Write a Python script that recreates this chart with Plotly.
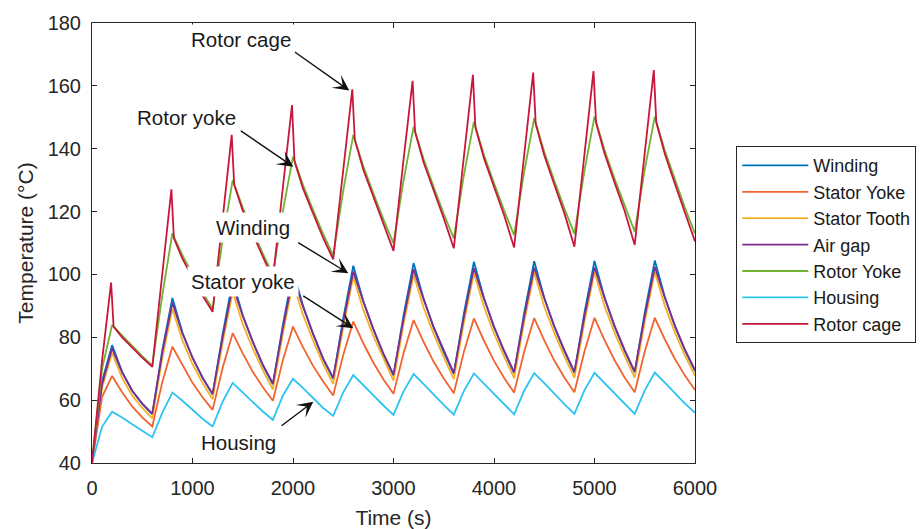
import plotly.graph_objects as go

# Sampling grid (s) for the node temperatures
time_s = list(range(0, 6001, 100))

winding = [
    40, 66, 77.5, 69, 63, 58.8,
    55.5, 76, 92.5, 81.5, 73.5, 67,
    61.8, 81, 98, 87, 78.5, 71,
    65, 84, 101, 90, 81, 73,
    66.8, 86, 102.8, 91.5, 82.5, 74.5,
    67.8, 87, 103.6, 92.3, 83, 75.3,
    68.3, 87.5, 104, 92.5, 83.2, 75.5,
    68.6, 87.7, 104.2, 92.6, 83.3, 75.6,
    68.7, 87.8, 104.3, 92.7, 83.4, 75.7,
    68.8, 87.8, 104.4, 92.8, 83.5, 75.8,
    69.2,
]

stator_yoke = [
    40, 61, 67.7, 62.5, 58.0, 54.5,
    51.6, 65.8, 77.0, 71.0, 65.5, 60.9,
    56.9, 70.3, 81.3, 74.9, 69.0, 64.1,
    59.8, 72.8, 83.4, 76.8, 70.9, 65.9,
    61.5, 74.4, 85.0, 78.1, 71.9, 66.6,
    62.0, 74.9, 85.5, 78.5, 72.2, 66.9,
    62.2, 75.3, 86.0, 78.9, 72.5, 67.1,
    62.4, 75.4, 86.1, 79.0, 72.6, 67.2,
    62.5, 75.5, 86.2, 79.1, 72.7, 67.2,
    62.5, 75.5, 86.2, 79.3, 73.1, 67.8,
    63.2,
]

stator_tooth = [
    40, 64, 75, 67, 61.5, 57.5,
    54.2, 73.5, 89, 79, 71.5, 65.4,
    60.3, 78.3, 94.3, 84.2, 76.4, 69.5,
    63.4, 81.3, 97.3, 87.1, 78.9, 71.5,
    65.2, 83.2, 99.2, 88.7, 80.4, 73.0,
    66.2, 84.1, 99.9, 89.4, 81.0, 73.7,
    66.7, 84.6, 100.4, 89.7, 81.2, 73.9,
    67.0, 84.8, 100.6, 89.8, 81.3, 74.0,
    67.1, 84.9, 100.7, 89.9, 81.4, 74.1,
    67.2, 84.9, 100.8, 90.0, 81.5, 74.2,
    67.8,
]

air_gap = [
    40, 65, 76.5, 68.8, 63, 58.9,
    55.7, 75.2, 91, 81.2, 73.5, 67.2,
    62.0, 80, 96.3, 86.8, 78.6, 71.3,
    65.3, 83, 99.2, 89.7, 81.1, 73.3,
    67.1, 84.9, 100.9, 91.3, 82.6, 74.8,
    68.1, 85.9, 101.6, 92.0, 83.2, 75.6,
    68.6, 86.4, 102.0, 92.3, 83.4, 75.8,
    68.9, 86.6, 102.2, 92.4, 83.5, 75.9,
    69.0, 86.7, 102.3, 92.5, 83.6, 76.0,
    69.1, 86.7, 102.4, 92.6, 83.7, 76.1,
    69.6,
]

rotor_yoke = [
    40, 70, 83.9, 80.5, 77.2, 74.0,
    71.0, 93.5, 113.1, 106.1, 100.1, 94.3,
    89.0, 111.1, 130.0, 121.3, 113.8, 106.6,
    100.0, 120.3, 137.5, 128.4, 120.5, 112.9,
    106.0, 126.7, 144.4, 134.4, 125.8, 117.5,
    109.9, 129.9, 147.0, 136.7, 127.8, 119.3,
    111.5, 131.5, 148.6, 138.1, 129.1, 120.4,
    112.5, 132.6, 149.7, 139.0, 129.8, 121.0,
    112.9, 133.0, 150.2, 139.6, 130.4, 121.7,
    113.6, 133.4, 150.2, 139.4, 130.1, 121.2,
    113.0,
]

housing = [
    40, 51.5, 56.3, 54.5, 52.3, 50.2,
    48.2, 56.0, 62.4, 59.8, 56.8, 54.1,
    51.6, 59.5, 65.5, 62.6, 59.4, 56.4,
    53.7, 61.5, 66.8, 63.8, 60.5, 57.5,
    55.0, 62.5, 68.0, 64.9, 61.5, 58.3,
    55.3, 62.8, 68.3, 65.1, 61.7, 58.5,
    55.4, 62.9, 68.5, 65.3, 61.9, 58.6,
    55.5, 63.0, 68.6, 65.4, 62.0, 58.7,
    55.6, 63.1, 68.7, 65.5, 62.0, 58.8,
    55.6, 63.1, 68.8, 65.6, 62.1, 58.9,
    56.0,
]

# Rotor cage is sampled more finely around its sharp peaks
cage_time_s = [
    0, 100, 190, 215, 300, 400, 500,
    600, 700, 790, 815, 900, 1000, 1100,
    1200, 1300, 1390, 1415, 1500, 1600, 1700,
    1800, 1900, 1990, 2015, 2100, 2200, 2300,
    2400, 2500, 2590, 2615, 2700, 2800, 2900,
    3000, 3100, 3190, 3215, 3300, 3400, 3500,
    3600, 3700, 3790, 3815, 3900, 4000, 4100,
    4200, 4300, 4390, 4415, 4500, 4600, 4700,
    4800, 4900, 4990, 5015, 5100, 5200, 5300,
    5400, 5500, 5590, 5615, 5700, 5800, 5900,
    6000,
]

rotor_cage = [
    40, 72.6, 97.4, 83.4, 80.0, 76.6, 73.5,
    70.6, 100.0, 127.1, 111.5, 105.0, 99.0, 93.3,
    88.1, 117.9, 144.4, 128.5, 120.3, 112.8, 105.6,
    98.5, 127.9, 153.9, 136.0, 127.3, 119.4, 111.6,
    104.8, 133.5, 158.9, 142.8, 133.3, 124.7, 116.2,
    107.5, 136.5, 161.6, 145.3, 135.6, 126.7, 117.9,
    108.3, 137.3, 163.5, 146.8, 137.0, 127.9, 118.9,
    108.6, 138.0, 164.2, 147.9, 137.9, 128.6, 119.5,
    108.8, 138.3, 164.7, 148.4, 138.5, 129.2, 120.2,
    109.4, 138.8, 165.0, 148.4, 138.3, 128.9, 119.7,
    110.5,
]

series = [
    ("Winding", time_s, winding, "#0072BD"),
    ("Stator Yoke", time_s, stator_yoke, "#F2642E"),
    ("Stator Tooth", time_s, stator_tooth, "#F5B027"),
    ("Air gap", time_s, air_gap, "#7E2F8E"),
    ("Rotor Yoke", time_s, rotor_yoke, "#72B332"),
    ("Housing", time_s, housing, "#2DC3F0"),
    ("Rotor cage", cage_time_s, rotor_cage, "#C8173D"),
]

# Callout labels: text, label centre (t, T), arrow tail (t, T), arrow tip (t, T)
callouts = [
    ("Rotor cage", (1483, 174.6), (2003, 171.1), (2560, 158.5)),
    ("Rotor yoke", (941, 149.8), (1466, 146.0), (2003, 134.3)),
    ("Winding", (1597, 114.8), (2037, 110.4), (2550, 100.4)),
    ("Stator yoke", (1505, 97.9), (2087, 93.5), (2600, 82.9)),
    ("Housing", (1456, 46.5), (1871, 51.5), (2202, 59.5)),
]

FONT = "Liberation Sans, Arial, Helvetica, sans-serif"
AXIS_COLOR = "#262626"

fig = go.Figure()
for name, t, temp, color in series:
    fig.add_trace(go.Scatter(
        x=t, y=temp, name=name, mode="lines",
        line=dict(color=color, width=1.8),
    ))

annotations = []
for text, (lx, ly), (tx, ty), (hx, hy) in callouts:
    annotations.append(dict(
        x=hx, y=hy, ax=tx, ay=ty, xref="x", yref="y", axref="x", ayref="y",
        text="", showarrow=True, arrowhead=3, arrowsize=1.9, arrowwidth=1.4,
        arrowcolor="#111111", standoff=0, startstandoff=0,
    ))
    annotations.append(dict(
        x=lx, y=ly, xref="x", yref="y", text=text, showarrow=False,
        font=dict(family=FONT, size=20.5, color="#1a1a1a"),
        bgcolor="white", borderpad=3, xanchor="center", yanchor="middle",
    ))

axis_common = dict(
    showline=True, linecolor=AXIS_COLOR, linewidth=1, mirror="ticks",
    ticks="inside", ticklen=5, tickcolor=AXIS_COLOR, tickwidth=1,
    showgrid=False, zeroline=False, automargin=False,
    tickfont=dict(family=FONT, size=20, color=AXIS_COLOR),
)

fig.update_layout(
    width=922, height=529,
    margin=dict(l=92, r=227, t=23, b=66, autoexpand=False),
    paper_bgcolor="white", plot_bgcolor="white",
    font=dict(family=FONT, color=AXIS_COLOR),
    xaxis=dict(
        range=[0, 6000], tickvals=[0, 1000, 2000, 3000, 4000, 5000, 6000],
        title=dict(text="Time (s)", font=dict(family=FONT, size=21, color=AXIS_COLOR), standoff=12),
        ticklabelstandoff=7,
        **axis_common,
    ),
    yaxis=dict(
        range=[40, 180], tickvals=[40, 60, 80, 100, 120, 140, 160, 180],
        title=dict(text="Temperature (°C)", font=dict(family=FONT, size=21, color=AXIS_COLOR), standoff=8),
        ticklabelstandoff=6,
        **axis_common,
    ),
    legend=dict(
        x=1.0685, y=0.72, xanchor="left", yanchor="top",
        bgcolor="white", bordercolor=AXIS_COLOR, borderwidth=1,
        font=dict(family=FONT, size=18, color="#1a1a1a"),
        itemwidth=66, tracegroupgap=0,
    ),
    annotations=annotations,
    showlegend=True,
)

fig.write_html("out.html")
